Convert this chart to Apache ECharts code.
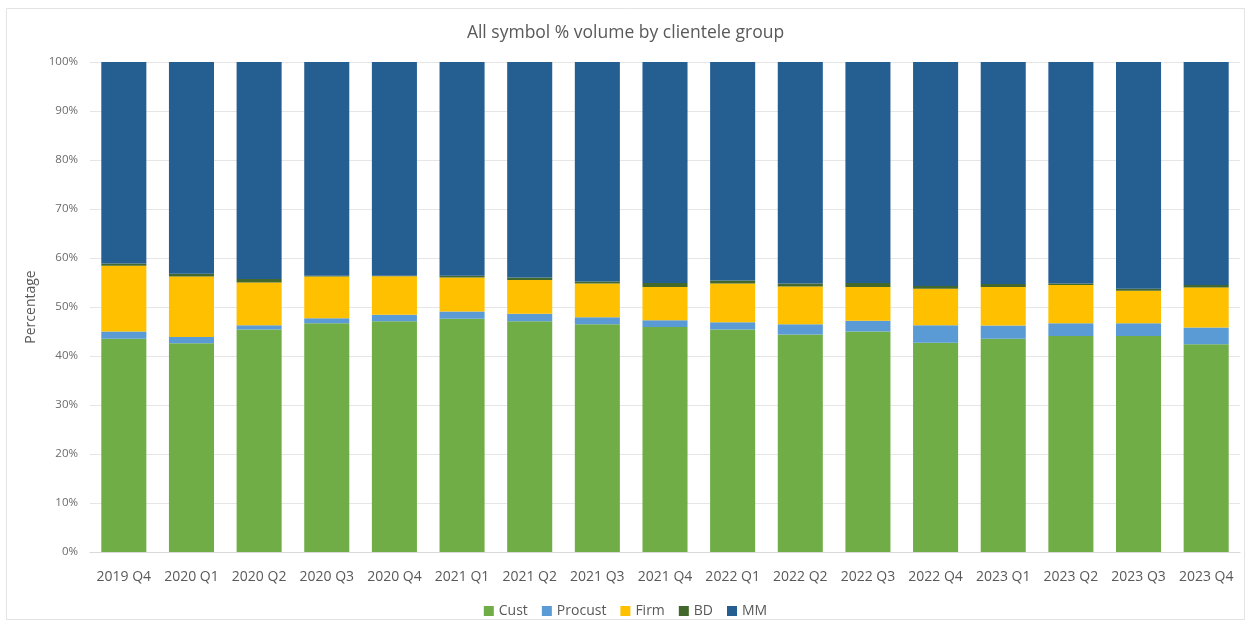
<!DOCTYPE html>
<html><head><meta charset="utf-8">
<script src="https://cdn.jsdelivr.net/npm/echarts@6/dist/echarts.min.js"></script>
<style>html,body{margin:0;padding:0;background:#fff}#c{width:1251px;height:629px}</style>
</head><body><div id="c"></div>
<script>
var categories = ['2019 Q4','2020 Q1','2020 Q2','2020 Q3','2020 Q4','2021 Q1','2021 Q2','2021 Q3','2021 Q4','2022 Q1','2022 Q2','2022 Q3','2022 Q4','2023 Q1','2023 Q2','2023 Q3','2023 Q4'];
var cust    = [43.5,42.6,45.4,46.7,47.1,47.6,47.1,46.5,45.9,45.4,44.4,45.0,42.7,43.5,44.1,44.1,42.4];
var procust = [1.5,1.3,0.9,1.0,1.3,1.5,1.5,1.4,1.4,1.5,2.1,2.2,3.6,2.7,2.6,2.6,3.4];
var firm    = [13.4,12.3,8.7,8.5,7.9,6.9,6.9,6.9,6.8,7.9,7.7,6.9,7.4,7.9,7.8,6.6,8.2];
var bd      = [0.5,0.6,0.7,0.2,0.1,0.4,0.5,0.4,0.8,0.6,0.6,0.8,0.6,0.6,0.3,0.4,0.5];
var mm      = [41.1,43.2,44.3,43.6,43.6,43.6,44.0,44.8,45.1,44.6,45.2,45.1,45.7,45.3,45.2,46.3,45.5];
var yTicks  = [0,10,20,30,40,50,60,70,80,90,100];

var FONT = 'Open Sans';
var chart = echarts.init(document.getElementById('c'), null, {renderer:'canvas'});
function s(name, data, color){
  return {name:name, type:'bar', stack:'all', data:data, barCategoryGap:'33.4%',
    itemStyle:{color:color, borderWidth:0},
    emphasis:{disabled:true}};
}
chart.setOption({
  animation:false,
  textStyle:{fontFamily:FONT},
  graphic:[{type:'rect', shape:{x:6.5,y:8.5,width:1238,height:611}, style:{fill:null, stroke:'#e3e3e3', lineWidth:1}, silent:true}],
  title:{text:'All symbol % volume by clientele group', left:'center', top:19,
    textStyle:{fontFamily:FONT, fontSize:17.5, fontWeight:'normal', color:'#595959'}},
  grid:{left:90, right:11, top:62, bottom:77},
  legend:{bottom:6, left:'center', itemWidth:10, itemHeight:10, itemGap:14, icon:'rect',
    textStyle:{fontFamily:FONT, fontSize:14, color:'#595959'},
    data:['Cust','Procust','Firm','BD','MM']},
  xAxis:{type:'category', data:categories,
    axisLine:{lineStyle:{color:'#d9d9d9'}}, axisTick:{show:false},
    axisLabel:{fontFamily:FONT, fontSize:14, color:'#595959', margin:18, interval:0}},
  yAxis:{type:'value', min:0, max:100, interval:10,
    name:'Percentage', nameLocation:'middle', nameGap:52, nameRotate:90,
    nameTextStyle:{fontFamily:FONT, fontSize:14, color:'#595959'},
    axisLine:{show:false}, axisTick:{show:false},
    splitLine:{lineStyle:{color:'#e6e6e6', width:1}},
    axisLabel:{fontFamily:FONT, fontSize:11.5, color:'#6b6b6b', margin:12,
      formatter:function(v){ return yTicks.indexOf(v) >= 0 ? v + '%' : ''; }}},
  series:[
    s('Cust', cust, '#70AD47'),
    s('Procust', procust, '#5B9BD5'),
    s('Firm', firm, '#FFC000'),
    s('BD', bd, '#43682B'),
    s('MM', mm, '#255E91')
  ]
});
</script></body></html>
